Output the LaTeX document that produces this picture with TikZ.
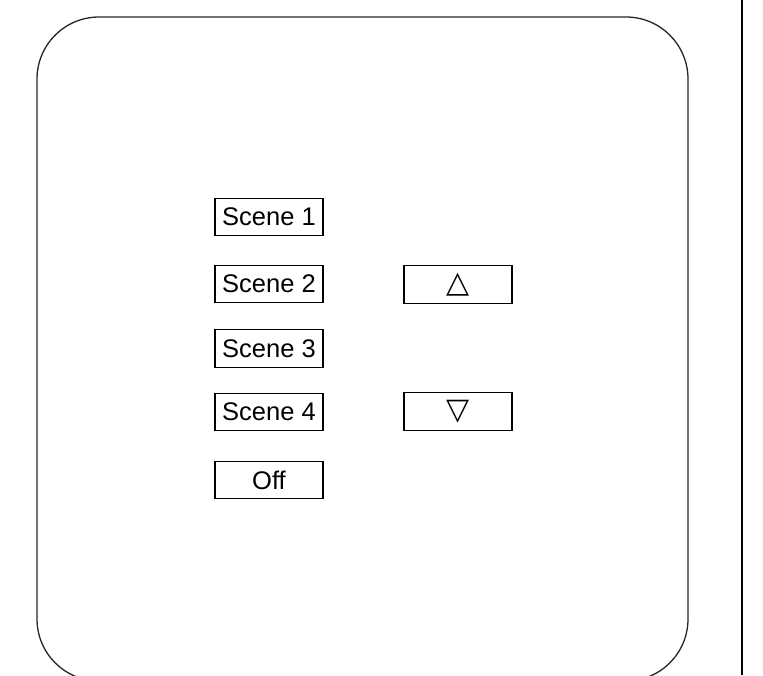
\documentclass[tikz,border=0pt]{standalone}
\usepackage{fontspec}
\setmainfont{Liberation Sans}
\newfontfamily\symfont{DejaVu Sans}
\begin{document}
\begin{tikzpicture}[x=1pt,y=-1pt,
  btn/.style={draw=black, line width=1.1pt, minimum width=108pt, minimum height=37.5pt, inner sep=0pt, font=\fontsize{25.5}{30}\selectfont},
  arrbtn/.style={btn, font=\symfont\fontsize{30}{34}\selectfont},
  panel/.style={draw=black!85, line width=1.3pt, rounded corners=62pt},
  edge/.style={draw=black, line width=2.2pt}]
\useasboundingbox (0,0) rectangle (763,675);
\begin{scope}
  \clip (0,0) rectangle (763,675);
  \path[panel] (37,17) rectangle (688,681);
\end{scope}
\path[edge] (742,0) -- (742,675);
\node[btn] (s1) at (269,217) {Scene 1};
\node[btn] (s2) at (269,284) {Scene 2};
\node[btn] (s3) at (269,348.5) {Scene 3};
\node[btn] (s4) at (269,412) {Scene 4};
\node[btn] (off) at (269,480) {Off};
\node[arrbtn] (up) at (458,284.5) {△};
\node[arrbtn] (down) at (458,411.5) {▽};
\end{tikzpicture}
\end{document}
